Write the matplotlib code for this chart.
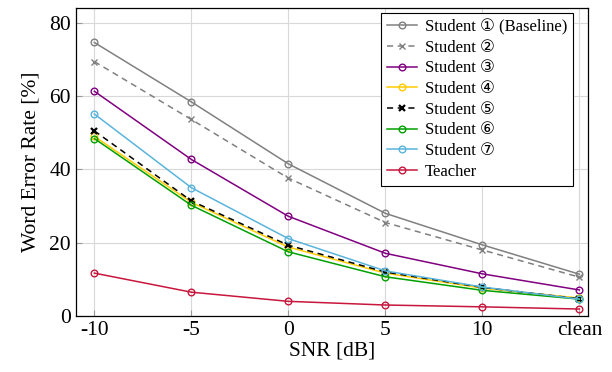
import matplotlib.pyplot as plt

plt.rcParams['font.family'] = ['Liberation Serif', 'DejaVu Sans']

snr_labels = ['-10', '-5', '0', '5', '10', 'clean']
x = list(range(len(snr_labels)))

student1 = [74.6, 58.4, 41.5, 28.0, 19.4, 11.4]
student2 = [69.4, 53.6, 37.6, 25.5, 18.0, 10.6]
student3 = [61.3, 42.7, 27.2, 17.1, 11.5, 7.1]
student4 = [49.0, 31.0, 18.8, 11.7, 7.6, 4.9]
student5 = [50.5, 31.4, 19.3, 12.0, 7.8, 4.7]
student6 = [48.4, 30.2, 17.5, 10.7, 7.0, 4.6]
student7 = [55.1, 35.0, 21.1, 12.3, 7.9, 4.6]
teacher = [11.7, 6.5, 4.0, 3.0, 2.5, 1.9]

fig = plt.figure(figsize=(6.12, 3.72), dpi=100)
ax = fig.add_axes([0.124, 0.1505, 0.837, 0.828])

ms = 4.8
lw = 1.1
ax.plot(x, student1, color='#808080', marker='o', mfc='none', ms=ms, lw=lw, label='Student \u2460 (Baseline)')
ax.plot(x, student2, color='#808080', marker='x', ms=ms, lw=lw, ls=(0, (4, 3)), label='Student \u2461')
ax.plot(x, student3, color='#800080', marker='o', mfc='none', ms=ms, lw=lw, label='Student \u2462')
ax.plot(x, student4, color='#ffcc00', marker='o', mfc='none', ms=ms, lw=lw, label='Student \u2463')
ax.plot(x, student5, color='black', marker='x', ms=ms, lw=lw, ls=(0, (4, 3)), mew=1.6, label='Student \u2464')
ax.plot(x, student6, color='#00a000', marker='o', mfc='none', ms=ms, lw=lw, label='Student \u2465')
ax.plot(x, student7, color='#5ab4dc', marker='o', mfc='none', ms=ms, lw=lw, label='Student \u2466')
ax.plot(x, teacher, color='#c8163c', marker='o', mfc='none', ms=ms, lw=lw, label='Teacher')

ax.set_xticks(x)
ax.set_xticklabels(snr_labels)
ax.set_xlim(-0.19, 5.09)
ax.set_ylim(0, 84)
ax.set_yticks([0, 20, 40, 60, 80])
ax.grid(True, color='#d8d8d8', lw=0.8)
ax.set_axisbelow(True)
for s in ax.spines.values():
    s.set_linewidth(0.9)
ax.tick_params(direction='in', labelsize=15.5, length=4, color='#999999')
ax.set_xlabel('SNR [dB]', fontsize=15.5, labelpad=1)
ax.set_ylabel('Word Error Rate [%]', fontsize=15.5, labelpad=6)

leg = ax.legend(loc='upper right', fontsize=12, fancybox=False, framealpha=1,
                edgecolor='black', handlelength=1.8, handletextpad=0.5,
                borderpad=0.35, labelspacing=0.28, borderaxespad=0,
                bbox_to_anchor=(0.971, 0.984))
leg.get_frame().set_linewidth(0.8)

fig.savefig('out.png', dpi=100)
